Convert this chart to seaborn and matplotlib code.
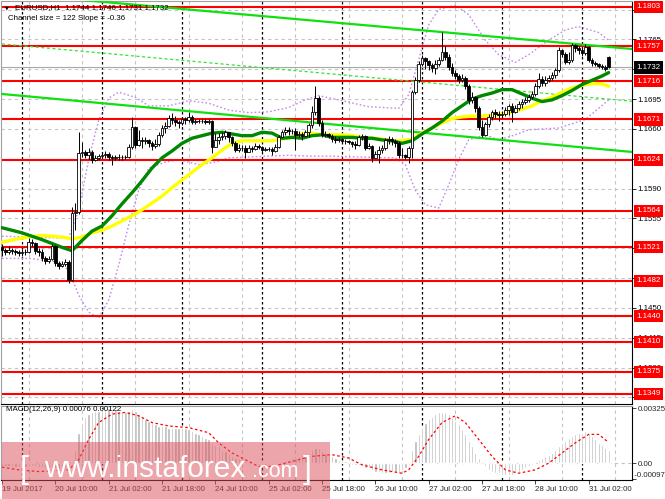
import numpy as np
import pandas as pd
import matplotlib
matplotlib.use("Agg")
import matplotlib.pyplot as plt
import seaborn as sns
from matplotlib.patches import Rectangle
from matplotlib.transforms import blended_transform_factory as btf

# ---------------- data (EURUSD H1) ----------------
first_open = 1.1521
last_open = 1.1744
closes = [1.1518, 1.1516, 1.1518, 1.1517, 1.1516, 1.1514, 1.1516, 1.1516, 1.1527, 1.1526,
          1.1517, 1.1516, 1.1509, 1.1505, 1.1507, 1.1522, 1.1503, 1.1499, 1.1502, 1.1504,
          1.1483, 1.1561, 1.1562, 1.1632, 1.1633, 1.1629, 1.1633, 1.1624, 1.1626, 1.1628,
          1.1629, 1.1630, 1.1627, 1.1626, 1.1627, 1.1627, 1.1627, 1.1627, 1.1639, 1.1662,
          1.1641, 1.1647, 1.1646, 1.1647, 1.1643, 1.1640, 1.1642, 1.1653, 1.1661, 1.1663,
          1.1673, 1.1670, 1.1668, 1.1667, 1.1671, 1.1670, 1.1674, 1.1668, 1.1669, 1.1669,
          1.1669, 1.1668, 1.1669, 1.1639, 1.1647, 1.1651, 1.1652, 1.1656, 1.1650, 1.1643,
          1.1635, 1.1638, 1.1638, 1.1633, 1.1638, 1.1636, 1.1640, 1.1639, 1.1635, 1.1636,
          1.1636, 1.1634, 1.1639, 1.1651, 1.1656, 1.1659, 1.1658, 1.1658, 1.1653, 1.1654,
          1.1652, 1.1656, 1.1665, 1.1680, 1.1696, 1.1667, 1.1653, 1.1654, 1.1652, 1.1648,
          1.1647, 1.1648, 1.1646, 1.1646, 1.1645, 1.1642, 1.1641, 1.1651, 1.1652, 1.1638,
          1.1640, 1.1626, 1.1630, 1.1635, 1.1638, 1.1647, 1.1648, 1.1646, 1.1643, 1.1629,
          1.1629, 1.1627, 1.1638, 1.1703, 1.1717, 1.1736, 1.1743, 1.1740, 1.1735, 1.1731,
          1.1736, 1.1741, 1.1750, 1.1744, 1.1733, 1.1726, 1.1722, 1.1717, 1.1720, 1.1710,
          1.1694, 1.1697, 1.1685, 1.1662, 1.1653, 1.1666, 1.1674, 1.1680, 1.1677, 1.1676,
          1.1677, 1.1682, 1.1687, 1.1680, 1.1685, 1.1689, 1.1691, 1.1694, 1.1697, 1.1701,
          1.1710, 1.1718, 1.1714, 1.1717, 1.1720, 1.1723, 1.1729, 1.1753, 1.1748, 1.1738,
          1.1741, 1.1758, 1.1755, 1.1753, 1.1749, 1.1756, 1.1741, 1.1737, 1.1736, 1.1734,
          1.1733, 1.1730, 1.1732]
highs = [1.1525, 1.1520, 1.1522, 1.1520, 1.1519, 1.1518, 1.1519, 1.1519, 1.1532, 1.1531,
         1.1527, 1.1520, 1.1519, 1.1511, 1.1511, 1.1525, 1.1524, 1.1505, 1.1505, 1.1507,
         1.1506, 1.1568, 1.1573, 1.1656, 1.1645, 1.1635, 1.1638, 1.1635, 1.1629, 1.1630,
         1.1633, 1.1634, 1.1633, 1.1629, 1.1629, 1.1630, 1.1629, 1.1629, 1.1642, 1.1674,
         1.1663, 1.1659, 1.1650, 1.1650, 1.1648, 1.1646, 1.1648, 1.1656, 1.1665, 1.1668,
         1.1676, 1.1679, 1.1675, 1.1670, 1.1674, 1.1674, 1.1680, 1.1676, 1.1671, 1.1671,
         1.1671, 1.1671, 1.1671, 1.1670, 1.1655, 1.1655, 1.1656, 1.1659, 1.1656, 1.1652,
         1.1646, 1.1642, 1.1641, 1.1641, 1.1641, 1.1640, 1.1643, 1.1642, 1.1640, 1.1639,
         1.1639, 1.1639, 1.1642, 1.1653, 1.1659, 1.1662, 1.1662, 1.1660, 1.1661, 1.1658,
         1.1656, 1.1659, 1.1667, 1.1687, 1.1710, 1.1699, 1.1670, 1.1658, 1.1655, 1.1654,
         1.1652, 1.1650, 1.1649, 1.1648, 1.1647, 1.1646, 1.1646, 1.1653, 1.1654, 1.1653,
         1.1643, 1.1641, 1.1634, 1.1640, 1.1641, 1.1649, 1.1652, 1.1650, 1.1648, 1.1646,
         1.1638, 1.1631, 1.1640, 1.1706, 1.1721, 1.1740, 1.1747, 1.1744, 1.1741, 1.1737,
         1.1741, 1.1744, 1.1774, 1.1757, 1.1748, 1.1737, 1.1729, 1.1724, 1.1724, 1.1722,
         1.1713, 1.1703, 1.1699, 1.1687, 1.1670, 1.1668, 1.1677, 1.1682, 1.1683, 1.1681,
         1.1681, 1.1686, 1.1689, 1.1690, 1.1688, 1.1693, 1.1695, 1.1697, 1.1701, 1.1704,
         1.1714, 1.1726, 1.1722, 1.1722, 1.1723, 1.1727, 1.1731, 1.1756, 1.1754, 1.1750,
         1.1750, 1.1761, 1.1760, 1.1757, 1.1755, 1.1760, 1.1757, 1.1743, 1.1740, 1.1737,
         1.1736, 1.1735, 1.1746]
lows = [1.1511, 1.1512, 1.1513, 1.1513, 1.1512, 1.1511, 1.1511, 1.1512, 1.1514, 1.1522,
        1.1513, 1.1511, 1.1505, 1.1502, 1.1503, 1.1506, 1.1499, 1.1496, 1.1498, 1.1499,
        1.1479, 1.1482, 1.1541, 1.1560, 1.1627, 1.1626, 1.1625, 1.1620, 1.1622, 1.1624,
        1.1626, 1.1626, 1.1624, 1.1618, 1.1624, 1.1624, 1.1624, 1.1625, 1.1626, 1.1636,
        1.1638, 1.1640, 1.1638, 1.1642, 1.1639, 1.1635, 1.1638, 1.1640, 1.1650, 1.1655,
        1.1662, 1.1666, 1.1663, 1.1661, 1.1664, 1.1666, 1.1668, 1.1666, 1.1666, 1.1667,
        1.1667, 1.1666, 1.1666, 1.1632, 1.1640, 1.1642, 1.1647, 1.1648, 1.1645, 1.1640,
        1.1633, 1.1633, 1.1634, 1.1626, 1.1633, 1.1633, 1.1635, 1.1636, 1.1633, 1.1634,
        1.1634, 1.1629, 1.1633, 1.1638, 1.1650, 1.1653, 1.1653, 1.1654, 1.1635, 1.1650,
        1.1647, 1.1650, 1.1651, 1.1661, 1.1676, 1.1663, 1.1650, 1.1651, 1.1649, 1.1645,
        1.1643, 1.1645, 1.1643, 1.1642, 1.1642, 1.1639, 1.1636, 1.1640, 1.1647, 1.1635,
        1.1636, 1.1621, 1.1626, 1.1620, 1.1632, 1.1635, 1.1642, 1.1641, 1.1639, 1.1626,
        1.1626, 1.1625, 1.1620, 1.1626, 1.1701, 1.1715, 1.1734, 1.1730, 1.1729, 1.1727,
        1.1724, 1.1734, 1.1740, 1.1741, 1.1729, 1.1722, 1.1719, 1.1714, 1.1715, 1.1707,
        1.1689, 1.1690, 1.1680, 1.1659, 1.1650, 1.1652, 1.1662, 1.1670, 1.1673, 1.1669,
        1.1673, 1.1675, 1.1676, 1.1668, 1.1679, 1.1682, 1.1685, 1.1689, 1.1691, 1.1695,
        1.1698, 1.1708, 1.1710, 1.1710, 1.1715, 1.1717, 1.1720, 1.1727, 1.1744, 1.1736,
        1.1736, 1.1738, 1.1750, 1.1748, 1.1745, 1.1747, 1.1738, 1.1734, 1.1734, 1.1731,
        1.1730, 1.1728, 1.1731]

# moving averages (dark green / yellow), read at sampled bars
ma_idx = [0, 6, 12, 18, 21, 24, 27, 30, 33, 36, 39, 42, 45, 48, 51, 54, 57, 60, 63, 66,
          69, 72, 75, 78, 81, 84, 87, 90, 93, 96, 99, 102, 105, 108, 111, 114, 117, 120,
          123, 126, 129, 132, 135, 138, 141, 144, 147, 150, 153, 156, 159, 162, 165, 168,
          171, 174, 177, 180, 182]
ma_green = [1.1544, 1.1538, 1.1530, 1.1521, 1.1517, 1.1529, 1.1540, 1.1546, 1.1558, 1.1572,
            1.1585, 1.1599, 1.1614, 1.1626, 1.1634, 1.1643, 1.1649, 1.1652, 1.1655, 1.1656,
            1.1654, 1.1652, 1.1652, 1.1656, 1.1655, 1.1649, 1.1650, 1.1649, 1.1652, 1.1653,
            1.1650, 1.1650, 1.1650, 1.1649, 1.1649, 1.1647, 1.1646, 1.1643, 1.1646, 1.1654,
            1.1661, 1.1669, 1.1679, 1.1687, 1.1695, 1.1699, 1.1702, 1.1706, 1.1706, 1.1701,
            1.1696, 1.1692, 1.1694, 1.1699, 1.1705, 1.1712, 1.1717, 1.1722, 1.1726]
ma_yellow = [1.1527, 1.1532, 1.1535, 1.1533, 1.1531, 1.1533, 1.1538, 1.1541, 1.1546, 1.1552,
             1.1558, 1.1565, 1.1573, 1.1581, 1.1591, 1.1600, 1.1609, 1.1618, 1.1626, 1.1635,
             1.1643, 1.1646, 1.1646, 1.1646, 1.1646, 1.1648, 1.1650, 1.1654, 1.1655, 1.1653,
             1.1653, 1.1653, 1.1652, 1.1650, 1.1649, 1.1648, 1.1646, 1.1646, 1.1648, 1.1655,
             1.1661, 1.1667, 1.1672, 1.1674, 1.1675, 1.1675, 1.1676, 1.1677, 1.1680, 1.1683,
             1.1687, 1.1693, 1.1697, 1.1703, 1.1708, 1.1711, 1.1713, 1.1713, 1.1710]

# envelope bands (violet dotted)
bb_up_idx = [0, 17, 20, 23, 26, 29, 32, 35, 40, 44, 50, 56, 62, 68, 74, 80, 86, 91, 95, 101,
             110, 119, 122, 125, 128, 131, 136, 140, 145, 149, 154, 158, 164, 169, 173, 179, 182]
bb_up = [1.1534, 1.1532, 1.1532, 1.1565, 1.1624, 1.1670, 1.1696, 1.1703, 1.1697, 1.1687,
         1.1687, 1.1693, 1.1690, 1.1682, 1.1679, 1.1680, 1.1685, 1.1694, 1.1699, 1.1694,
         1.1686, 1.1684, 1.1700, 1.1741, 1.1782, 1.1800, 1.1805, 1.1794, 1.1764, 1.1747,
         1.1738, 1.1747, 1.1764, 1.1776, 1.1780, 1.1773, 1.1764]
bb_lo_idx = [0, 8, 17, 20, 23, 26, 29, 32, 35, 38, 41, 44, 49, 53, 59, 64, 68, 74, 80, 86,
             92, 98, 107, 118, 121, 124, 127, 131, 134, 137, 140, 145, 149, 154, 158, 167, 175, 182]
bb_lo = [1.1508, 1.1508, 1.1504, 1.1494, 1.1465, 1.1445, 1.1438, 1.1459, 1.1500, 1.1547,
         1.1588, 1.1614, 1.1621, 1.1624, 1.1618, 1.1621, 1.1626, 1.1627, 1.1628, 1.1629,
         1.1628, 1.1628, 1.1627, 1.1626, 1.1618, 1.1588, 1.1571, 1.1567, 1.1594, 1.1624,
         1.1647, 1.1653, 1.1647, 1.1653, 1.1659, 1.1661, 1.1671, 1.1694]

# regression channel
channel_idx = [0, 189]
channel_upper = [1.18195, 1.17537]
channel_mid = [1.17596, 1.16924]
channel_lower = [1.17009, 1.16329]

levels = [1.1803, 1.1757, 1.1716, 1.1671, 1.1624, 1.1564, 1.1521, 1.1482,
          1.1440, 1.1410, 1.1375, 1.1349]
current_price = 1.1732
price_ticks = [1.1345, 1.1380, 1.1415, 1.1450, 1.1485, 1.1520, 1.1555, 1.1590,
               1.1625, 1.1660, 1.1695, 1.1730, 1.1765, 1.1800]
# tick labels that stay visible next to the level boxes
price_tick_labels = ["1.1345", "1.1380", "1.1415", "1.1450", "", "", "1.1555", "1.1590",
                     "", "1.1660", "1.1695", "", "1.1765", ""]

macd_hist = [-0.00015, -0.00018, -0.0002, -0.0002, -0.00022, -0.00024, -0.00025, -0.00024, -0.0002, -0.00018,
             -0.0002, -0.00022, -0.00025, -0.00028, -0.0003, -0.00028, -0.0003, -0.00032, -0.00033, -0.00032,
             -0.00035, -0.0001, 0.0008, 0.0018, 0.0024, 0.0027, 0.0029, 0.0030, 0.0031, 0.0031,
             0.0032, 0.0032, 0.00325, 0.0032, 0.0032, 0.0031, 0.0031, 0.0030, 0.0031, 0.0032,
             0.0031, 0.0029, 0.0028, 0.0026, 0.0025, 0.0024, 0.0023, 0.0022, 0.0022, 0.0022,
             0.0021, 0.0021, 0.0021, 0.0021, 0.0021, 0.0021, 0.0020, 0.0019, 0.0018, 0.0017,
             0.0016, 0.0015, 0.0014, 0.0012, 0.0011, 0.0010, 0.0008, 0.0007, 0.0006, 0.0004,
             0.0003, 0.0003, 0.0002, 0.0001, 0.0001, 0.0, -0.00005, -0.0001, -0.0001, -0.0001,
             -0.0001, -0.0001, -0.00005, 0.0, 0.0001, 0.0001, 0.0002, 0.0003, 0.0003, 0.0004,
             0.0005, 0.0005, 0.0006, 0.0008, 0.0009, 0.0009, 0.0007, 0.0006, 0.0005, 0.0004,
             0.0003, 0.0002, 0.0001, 0.0001, 0.0, -0.0001, -0.0001, -0.0001, -0.0002, -0.0003,
             -0.0003, -0.0004, -0.0005, -0.0005, -0.0006, -0.0006, -0.0006, -0.0005, -0.0005, -0.0005,
             -0.0004, -0.0003, -0.0001, 0.0008, 0.0013, 0.0017, 0.0021, 0.0024, 0.0026, 0.0027,
             0.0029, 0.0030, 0.0030, 0.0030, 0.0029, 0.0027, 0.0025, 0.0023, 0.0020, 0.0017,
             0.0013, 0.0010, 0.0006, 0.0003, 0.0, -0.0002, -0.0004, -0.0005, -0.0006, -0.0006,
             -0.0007, -0.0007, -0.0007, -0.0007, -0.0006, -0.0005, -0.0004, -0.0003, -0.0002, -0.0001,
             0.0, 0.0002, 0.0003, 0.0004, 0.0005, 0.0006, 0.0008, 0.0010, 0.0012, 0.0013,
             0.0015, 0.0016, 0.0017, 0.0018, 0.0018, 0.0019, 0.0018, 0.0016, 0.0014, 0.0012,
             0.0011, 0.0009, 0.00076]
signal_idx = [0, 5, 11, 20, 23, 26, 29, 33, 37, 41, 45, 50, 56, 62, 65, 69, 74, 77, 81, 87,
              93, 99, 104, 108, 114, 120, 122, 125, 128, 132, 136, 139, 143, 147, 151, 155,
              160, 164, 168, 172, 176, 179, 182]
signal_vals = [-0.00024, -0.0004, -0.0005, -0.0004, 0.0002, 0.0014, 0.0024, 0.0029, 0.0030, 0.0028,
               0.0024, 0.0022, 0.0021, 0.0018, 0.0012, 0.0006, 0.0001, -0.0002, -0.0002, 0.0001,
               0.0004, 0.0005, 0.0003, -0.0001, -0.0004, -0.0006, -0.0004, 0.0004, 0.0014, 0.0024,
               0.0028, 0.0024, 0.0014, 0.0004, -0.0004, -0.0006, -0.0004, 0.0, 0.0006, 0.0012,
               0.0017, 0.0017, 0.00122]

time_tick_idx = [0, 16, 32, 48, 64, 80, 96, 112, 128, 144, 160, 176]
time_labels = ["19 Jul 2017", "20 Jul 10:00", "21 Jul 02:00", "21 Jul 18:00", "24 Jul 10:00",
               "25 Jul 02:00", "25 Jul 18:00", "26 Jul 10:00", "27 Jul 02:00", "27 Jul 18:00",
               "28 Jul 10:00", "31 Jul 02:00"]
day_sep_idx = [6, 30, 54, 78, 102, 126, 150, 174]
grid_x_idx = [8, 24, 40, 56, 72, 88, 104, 120, 136, 152, 168, 184]

# ---------------- figure ----------------
sns.set_style("white")
plt.rcParams['font.family'] = ['Liberation Sans', 'DejaVu Sans']
FS = 5.7

W, H = 665, 499
fig = plt.figure(figsize=(W / 100, H / 100), dpi=100)
fig.patch.set_facecolor('white')


def frect(x0, y0, x1, y1):
    return [x0 / W, 1 - y1 / H, (x1 - x0) / W, (y1 - y0) / H]


ax = fig.add_axes(frect(1, 1, 632, 404))
axm = fig.add_axes(frect(1, 406, 632, 480))
XL = (-0.3, 189.0)

c = np.array(closes)
h = np.array(highs)
l = np.array(lows)
o = np.r_[first_open, c[:-1]]
o[-1] = last_open
h = np.maximum(h, np.maximum(o, c))
l = np.minimum(l, np.minimum(o, c))
idx = np.arange(len(c))

# grid
for a in (ax, axm):
    for gx in grid_x_idx:
        a.axvline(gx, color='#C4C4C4', ls=(0, (3, 3)), lw=0.8, zorder=0.5)
    for dx in day_sep_idx:
        a.axvline(dx, color='black', ls=(0, (2, 2)), lw=0.9, zorder=0.6)
for pt in price_ticks:
    ax.axhline(pt, color='#C4C4C4', ls=(0, (3, 3)), lw=0.8, zorder=0.5)

# bands
sns.lineplot(x=bb_up_idx, y=bb_up, ax=ax, color='#C58BE8', lw=1.0, ls=(0, (1.2, 1.6)),
             estimator=None, sort=False, zorder=1)
sns.lineplot(x=bb_lo_idx, y=bb_lo, ax=ax, color='#C58BE8', lw=1.0, ls=(0, (1.2, 1.6)),
             estimator=None, sort=False, zorder=1)

# horizontal levels
for lv in levels:
    ax.axhline(lv, color='#FF0000', lw=1.5, zorder=2)
ax.axhline(current_price, color='#A8A8A8', lw=0.8, zorder=1.5)

# channel
sns.lineplot(x=channel_idx, y=channel_upper, ax=ax, color='#10E010', lw=1.6, estimator=None, zorder=3)
sns.lineplot(x=channel_idx, y=channel_lower, ax=ax, color='#10E010', lw=1.6, estimator=None, zorder=3)
sns.lineplot(x=channel_idx, y=channel_mid, ax=ax, color='#33E633', lw=0.9, ls=(0, (2.5, 2)),
             estimator=None, zorder=3)

# moving averages
sns.lineplot(x=ma_idx, y=ma_yellow, ax=ax, color='#FFFF00', lw=2.4, estimator=None, sort=False, zorder=4)
sns.lineplot(x=ma_idx, y=ma_green, ax=ax, color='#008800', lw=2.4, estimator=None, sort=False, zorder=4.1)

# candles
ax.vlines(idx, l, h, color='black', lw=0.7, zorder=5)
up = c >= o
dn = ~up
ax.bar(idx[up], (c - o)[up], bottom=o[up], width=0.8, color='white', edgecolor='black',
       linewidth=0.6, zorder=6)
ax.bar(idx[dn], (o - c)[dn], bottom=c[dn], width=0.8, color='black', edgecolor='black',
       linewidth=0.6, zorder=6)

ax.set_xlim(*XL)
ax.set_ylim(1.13372, 1.18100)
ax.set_xticks([])
ax.yaxis.tick_right()
ax.set_yticks(price_ticks)
ax.set_yticklabels(price_tick_labels)
ax.tick_params(axis='y', direction='out', length=3, width=0.6, labelsize=FS, pad=1.2,
               colors='black', right=True, left=False)
for s in ('left', 'top'):
    ax.spines[s].set_color('#A0A0A0')
    ax.spines[s].set_linewidth(0.8)
for s in ('right', 'bottom'):
    ax.spines[s].set_color('black')
    ax.spines[s].set_linewidth(0.8)

tr = btf(ax.transAxes, ax.transData)
for lv in levels:
    ax.text(1.0065, lv, f"{lv:.4f}", transform=tr, fontsize=FS, color='white', va='center',
            ha='left', clip_on=False, zorder=10,
            bbox=dict(boxstyle='square,pad=0.32', fc='#FF0000', ec='none'))
ax.text(1.0065, current_price, f"{current_price:.4f}", transform=tr, fontsize=FS, color='white',
        va='center', ha='left', clip_on=False, zorder=10,
        bbox=dict(boxstyle='square,pad=0.32', fc='black', ec='none'))

# MACD panel
axm.bar(idx, macd_hist, width=0.7, color='#B8B8B8', zorder=2)
axm.axhline(0, color='#C4C4C4', ls=(0, (3, 3)), lw=0.8, zorder=0.5)
sns.lineplot(x=signal_idx, y=signal_vals, ax=axm, color='#FF0000', lw=0.9, ls=(0, (2, 2)),
             estimator=None, sort=False, zorder=3)
axm.set_xlim(*XL)
axm.set_ylim(-0.00100, 0.00338)
axm.yaxis.tick_right()
axm.set_yticks([0.00325, 0.0, -0.00097])
axm.set_yticklabels(["0.00325", "0.00", ""])
axm.tick_params(axis='y', direction='out', length=3, width=0.6, labelsize=FS, pad=1.2,
                right=True, left=False)
axm.text(1.0, -0.00097, " -0.00097", transform=btf(axm.transAxes, axm.transData),
         fontsize=FS, va='bottom', ha='left', clip_on=False)
axm.set_xticks(time_tick_idx)
axm.set_xticklabels(time_labels, ha='left')
axm.tick_params(axis='x', direction='out', length=3, width=0.6, labelsize=FS, pad=1.5,
                bottom=True)
axm.set_xlabel('')
axm.set_ylabel('')
ax.set_xlabel('')
ax.set_ylabel('')
for s in ('left', 'top'):
    axm.spines[s].set_color('#A0A0A0')
    axm.spines[s].set_linewidth(0.8)
for s in ('right', 'bottom'):
    axm.spines[s].set_color('black')
    axm.spines[s].set_linewidth(0.8)

# header texts
fig.text(5 / W, 1 - 8 / H, "\u25BC", fontsize=3.5, va='center', ha='left', color='black',
         family=['DejaVu Sans'])
fig.text(15 / W, 1 - 8 / H, "EURUSD,H1  1.1744 1.1746 1.1731 1.1732", fontsize=FS,
         va='center', ha='left', color='black')
fig.text(8 / W, 1 - 19 / H, "Channel size = 122 Slope = -0.36", fontsize=FS,
         va='center', ha='left', color='black')
fig.text(6 / W, 1 - 409.5 / H, "MACD(12,26,9) 0.00076 0.00122", fontsize=FS,
         va='center', ha='left', color='black')

# watermark
fig.patches.append(Rectangle((2 / W, 0), 328 / W, (499 - 442) / H, transform=fig.transFigure,
                             facecolor=(0.86, 0.33, 0.36), alpha=0.52, edgecolor='none', zorder=5))
fig.text(20 / W, 1 - 478 / H, "[", fontsize=23, color='white', va='baseline', ha='left', zorder=6)
fig.text(44 / W, 1 - 477 / H, "www.instaforex", fontsize=21.5, color='white', va='baseline',
         ha='left', zorder=6)
fig.text(252 / W, 1 - 477 / H, ".com", fontsize=15.5, color='white', va='baseline', ha='left',
         zorder=6)
fig.text(303 / W, 1 - 478 / H, "]", fontsize=23, color='white', va='baseline', ha='left', zorder=6)

fig.savefig("out.png", dpi=100, facecolor='white')
